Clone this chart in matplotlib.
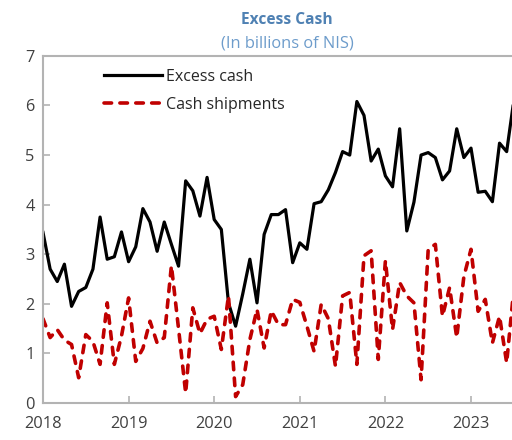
import matplotlib
matplotlib.use("Agg")
import matplotlib.pyplot as plt
import numpy as np

plt.rcParams['font.family'] = ['Open Sans', 'DejaVu Sans']

# monthly data, Jan 2018 onwards
start_year = 2018
excess_cash = [
    3.44, 2.70, 2.45, 2.80, 1.95, 2.25, 2.33, 2.70, 3.75, 2.90, 2.95, 3.45,
    2.85, 3.15, 3.92, 3.65, 3.06, 3.65, 3.20, 2.76, 4.48, 4.28, 3.77, 4.55,
    3.70, 3.50, 2.02, 1.55, 2.20, 2.90, 2.02, 3.40, 3.80, 3.80, 3.90, 2.83,
    3.23, 3.10, 4.02, 4.06, 4.30, 4.65, 5.07, 5.00, 6.08, 5.80, 4.88, 5.12,
    4.58, 4.36, 5.53, 3.47, 4.05, 5.00, 5.05, 4.95, 4.50, 4.68, 5.53, 4.95,
    5.14, 4.25, 4.27, 4.06, 5.24, 5.07, 6.10,
]
cash_shipments = [
    1.70, 1.32, 1.48, 1.27, 1.18, 0.51, 1.38, 1.24, 0.78, 2.02, 0.78, 1.35,
    2.12, 0.84, 1.10, 1.65, 1.21, 1.32, 2.77, 1.50, 0.20, 1.92, 1.40, 1.69,
    1.75, 1.08, 2.16, 0.13, 0.37, 1.28, 1.89, 1.11, 1.86, 1.58, 1.58, 2.09,
    2.03, 1.55, 1.04, 1.99, 1.70, 0.74, 2.16, 2.23, 0.78, 2.97, 3.07, 0.88,
    2.87, 1.48, 2.43, 2.16, 2.02, 0.47, 3.10, 3.20, 1.75, 2.33, 1.32, 2.55,
    3.10, 1.85, 2.09, 1.21, 1.75, 0.81, 2.30,
]
year_ticks = [2018, 2019, 2020, 2021, 2022, 2023]

x = start_year + np.arange(len(excess_cash)) / 12.0

fig = plt.figure(figsize=(5.12, 4.4), dpi=100)
ax = fig.add_axes([0.084, 0.084, 0.916, 0.789])

ax.plot(x, excess_cash, color='black', lw=2.3, label='Excess cash',
        solid_joinstyle='round')
ax.plot(x, cash_shipments, color='#c00000', lw=2.6, label='Cash shipments',
        linestyle=(0, (2.1, 2.3)), dash_capstyle='round')

ax.set_xlim(2018, 2023.479)
ax.set_ylim(0, 7)
ax.set_yticks(range(0, 8))
ax.set_xticks(year_ticks)
ax.set_xticklabels([str(y) for y in year_ticks])

grey = '#b3b3b3'
for side in ['left', 'bottom', 'top']:
    ax.spines[side].set_color(grey)
    ax.spines[side].set_linewidth(1.5)
ax.spines['right'].set_visible(False)
ax.tick_params(direction='in', length=5, width=1.2, color=grey,
               labelsize=11.8, labelcolor='#404040', pad=6)
ax.tick_params(axis='x', pad=9)

leg = ax.legend(loc='upper left', bbox_to_anchor=(0.11, 0.99), frameon=False,
                fontsize=11.5, handlelength=3.6, handletextpad=0.3,
                labelspacing=0.75, borderaxespad=0.2)
for t in leg.get_texts():
    t.set_color('#262626')

fig.text(287 / 512, 1 - 20 / 440, 'Excess Cash', ha='center', va='center',
         fontsize=11.2, fontweight='bold', color='#4f81b3')
fig.text(287 / 512, 1 - 43 / 440, '(In billions of NIS)', ha='center',
         va='center', fontsize=11.8, color='#6d9ccb')

fig.savefig('out.png', dpi=100)
